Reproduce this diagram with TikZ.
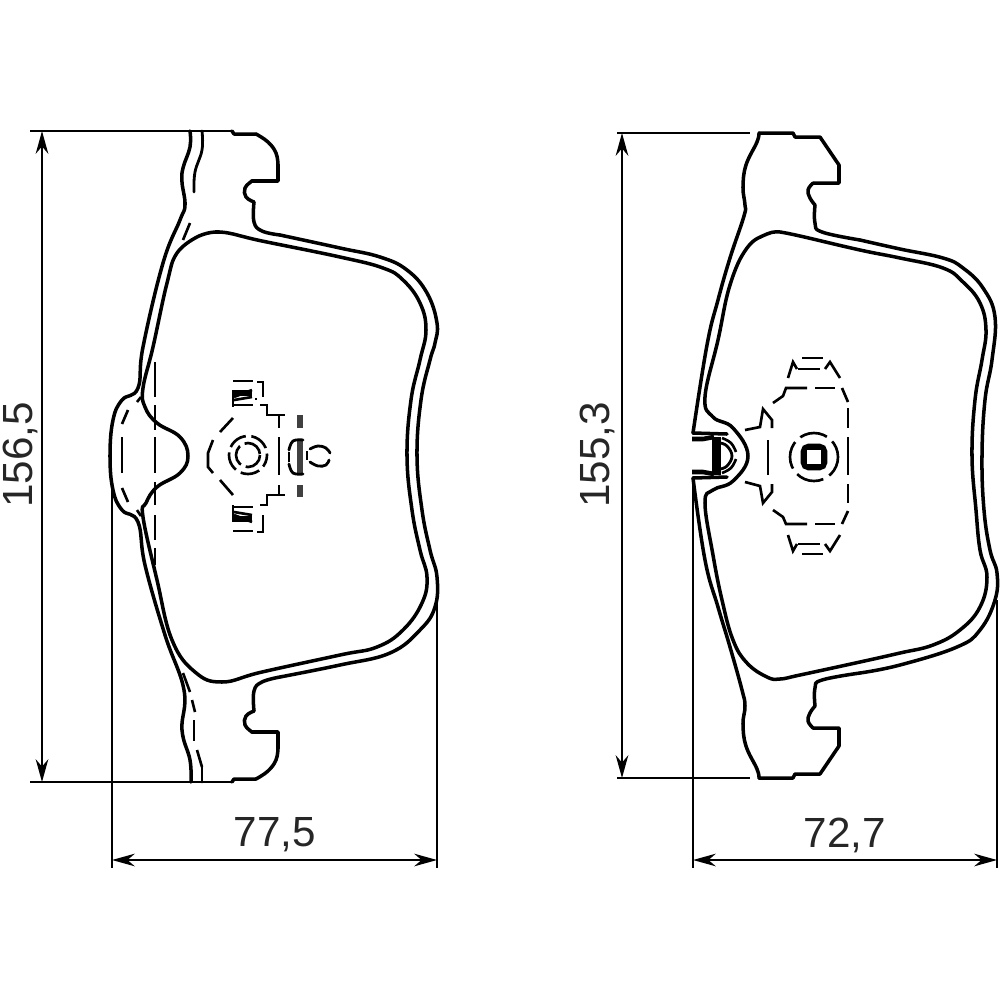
\documentclass[tikz,border=0pt]{standalone}
\usepackage{fontspec}
\setmainfont{Liberation Sans}
\usetikzlibrary{arrows.meta}
\tikzset{
 pad/.style={line width=1pt,line join=round,line cap=round,black},
 thinpad/.style={line width=0.8pt,line join=round,line cap=round,black},
 dsh/.style={line width=0.75pt,line cap=butt,black},
 hvy/.style={line width=1.5pt,line cap=butt,black},
 dim/.style={line width=0.45pt,black},
 dimarrow/.style={dim,{Stealth[length=6.5pt,width=3.6pt]}-{Stealth[length=6.5pt,width=3.6pt]}},
 lab/.style={font=\fontsize{12}{12}\selectfont,text=black!85,inner sep=0pt},
 sm/.style={smooth,tension=0.7}
}
\begin{document}
\begin{tikzpicture}[x=0.1mm,y=-0.1mm]
\useasboundingbox (0,0) rectangle (1000,1000);
\clip (0,0) rectangle (1000,1000);
%% ===== LEFT PAD =====
\coordinate (LT) at (30,131); \coordinate (LB) at (30,782);
\coordinate (LTe) at (232,131); \coordinate (LBe) at (232,782);
\coordinate (LdT) at (42,131); \coordinate (LdB) at (42,782);
\coordinate (LxA) at (112,485); \coordinate (LxAe) at (112,868);
\coordinate (LxB) at (437,600); \coordinate (LxBe) at (437,868);
\coordinate (LdL) at (112,860); \coordinate (LdR) at (437,860);
\draw[dim,line width=0.8pt] (LT)--(LTe); \draw[dim,line width=0.8pt] (LB)--(LBe);
\draw[dimarrow] (LdT)--(LdB);
\draw[dim] (LxA)--(LxAe); \draw[dim] (LxB)--(LxBe);
\draw[dimarrow] (LdL)--(LdR);
\node[lab] (l775) at (275,835) {77,5};
\node[lab,rotate=90] (l1565) at (20,455) {156,5};
% outer plate: top lug
\draw[pad] (232,131)--(234,134)--(256,134);
\draw[pad] plot[sm] coordinates {(256,134)(268,142)(276,153)(278,165)};
\draw[pad] (278,165)--(278,181)--(252,181);
\draw[pad] plot[sm] coordinates {(252,181)(245,188)(246,197)(254,202)};
\draw[pad] plot[sm] coordinates {(254,202)(254,222)(262,231)(280,235)};
\draw[pad] plot[sm] coordinates {(280,235)(340,248)(380,257)(407,270)(427,293)(437,323)(435,343)(430,360)(421,400)(417,456)(422,510)(430,550)(437,577)(435,607)(420,630)(390,653)(340,665)(280,677)};
\draw[pad] plot[sm] coordinates {(280,677)(262,682)(254,691)(254,711)};
\draw[pad] plot[sm] coordinates {(254,711)(246,716)(245,725)(252,732)};
\draw[pad] (252,732)--(278,732)--(278,748);
\draw[pad] plot[sm] coordinates {(278,748)(276,760)(268,771)(256,779)};
\draw[pad] (256,779)--(234,779)--(232,782);
% outer plate: left edge with bump
\draw[pad] plot[sm] coordinates {(190,131)(190,147)(183,168)(182,182)(185,205)(180,220)(163,263)(143,347)(138,388)(122,400)(113,420)(110,456)(113,490)(122,510)(138,522)(145,565)(165,635)(184,690)(182,730)(190,760)(191,782)};
% second line, upper solid part and lower part
\draw[thinpad] plot[sm] coordinates {(202,131)(202,150)(195,172)(194,192)};
\draw[thinpad] (202,767)--(202,782);
% friction outline
\draw[pad] plot[sm] coordinates {(197,237)(220,232)(262,241)(340,257)(383,268)(403,280)(420,303)(426,330)(420,360)(411,400)(407,456)(412,510)(420,550)(427,577)(422,603)(403,630)(377,647)(340,655)(262,672)(222,682)(195,672)(172,640)(157,580)(143,517)(146,503)(157,487)(180,473)(188,456)(180,437)(157,423)(145,407)(143,388)(153,347)(167,283)(177,253)(197,237)};
% dashes on the left pad
\draw[dsh] (190,223)--(183,240);
\draw[dsh] (183,673)--(190,692); \draw[dsh] (192,700)--(195,712);
\draw[dsh] (194,720)--(194,741); \draw[dsh] (197,750)--(202,767);
\foreach \a/\b in {362/397,405/430,437/473,482/505,515/540,548/565}
  \draw[dsh] (155,\a)--(155,\b);
\draw[dsh] (122,437)--(122,473);
\draw[dsh] (128,410)--(122,424); \draw[dsh] (122,488)--(128,502);
\draw[dsh] (141,397)--(137,402); \draw[dsh] (137,510)--(141,516);
% centre of left pad: clips
\draw[dsh] (233,381)--(253,381); \draw[dsh] (233,405)--(253,405);
\draw[dsh] (233,390)--(233,407);
\draw[hvy] (234,393)--(252,393); \draw[dsh] (234,397)--(252,390); \draw[dsh] (234,400)--(252,397);
\draw[dsh] (257,382)--(263,382)--(263,397);
\draw[dsh] (255,399)--(257,399);
\draw[dsh] (260,405)--(267,405)--(267,415)--(285,415);
\draw[dsh] (233,531)--(253,531); \draw[dsh] (233,507)--(253,507);
\draw[dsh] (233,505)--(233,522);
\draw[hvy] (234,519)--(252,519); \draw[dsh] (234,515)--(252,522); \draw[dsh] (234,512)--(252,515);
\draw[dsh] (257,532)--(263,532)--(263,515);
\draw[dsh] (260,505)--(267,505)--(267,495)--(285,495);
\draw[dsh] (279,415)--(279,428); \draw[dsh] (279,437)--(279,475); \draw[dsh] (279,485)--(279,495);
% hexagon
\draw[dsh] (233,418)--(220,432); \draw[dsh] (213,440)--(208,453)--(208,467)--(213,473); \draw[dsh] (220,480)--(233,495);
% circles
\draw[dsh,dash pattern=on 5.5pt off 1.6pt,dash phase=2pt] (248,455) circle (19);
\draw[dsh,dash pattern=on 6pt off 1.5pt] (248,455) circle (12);
% heavy bar and right C and circle
\draw[line width=1.8pt,black!75] (300,415)--(300,428); \draw[line width=1.8pt,black!75] (300,440)--(300,474); \draw[line width=1.8pt,black!75] (300,485)--(300,497);
\draw[thinpad] plot[sm] coordinates {(303,440)(293,441)(289,450)};
\draw[thinpad] plot[sm] coordinates {(303,474)(293,473)(289,464)};
\draw[dsh] (289,452)--(289,462);
\draw[thinpad] plot[sm] coordinates {(310,449)(318,446)(326,448)(330,453)};
\draw[thinpad] plot[sm] coordinates {(310,462)(318,466)(326,465)(329,460)};
\draw[dsh] (307,451)--(307,460);
%% ===== RIGHT PAD =====
\coordinate (RT) at (617,133); \coordinate (RB) at (617,778);
\coordinate (RTe) at (750,133); \coordinate (RBe) at (750,778);
\coordinate (RdT) at (622,133); \coordinate (RdB) at (622,778);
\coordinate (RxA) at (693,478); \coordinate (RxAe) at (693,868);
\coordinate (RxB) at (997,600); \coordinate (RxBe) at (997,868);
\coordinate (RdL) at (693,860); \coordinate (RdR) at (997,860);
\draw[dim,line width=0.8pt] (RT)--(RTe); \draw[dim,line width=0.8pt] (RB)--(RBe);
\draw[dimarrow] (RdT)--(RdB);
\draw[dim] (RxA)--(RxAe); \draw[dim,line width=0.8pt] (RxB)--(RxBe);
\draw[dimarrow] (RdL)--(RdR);
\node[lab] (l727) at (845,835) {72,7};
\node[lab,rotate=90] (l1553) at (597,455) {155,3};
% outer plate
\draw[pad] (759,133)--(793,133)--(795,137)--(820,137)--(839,165)--(839,183)--(813,183);
\draw[pad] plot[sm] coordinates {(813,183)(808,190)(810,198)(815,205)};
\draw[pad] plot[sm] coordinates {(815,205)(815,223)(822,232)(860,240)};
\draw[pad] plot[sm] coordinates {(860,240)(900,249)(943,258)(963,268)(983,288)(995,317)(992,360)(985,400)(982,456)(984,510)(990,550)(997,573)(995,600)(980,630)(957,647)(900,665)(860,673)};
\draw[pad] plot[sm] coordinates {(860,673)(822,680)(815,688)(815,706)};
\draw[pad] plot[sm] coordinates {(815,706)(810,713)(808,721)(813,728)};
\draw[pad] (813,728)--(839,728)--(839,746)--(820,774)--(795,774)--(793,778)--(759,778);
\draw[pad] plot[sm] coordinates {(759,133)(757,142)(746,165)(743,187)(745,205)(744,216)(730,258)(718,300)(707,345)(693,433)};
\draw[pad] plot[sm] coordinates {(759,778)(757,769)(746,746)(743,724)(745,706)(742,690)(730,647)(718,607)(705,560)(693,478)};
% jaw
\draw[pad] (693,433)--(727,434);
\draw[pad] (693,478)--(727,477);
\draw[line width=1.3pt] (692,439)--(703,439)--(714,437);
\draw[line width=1.3pt] (692,472)--(703,472)--(714,474);
\draw[line width=2.4pt] (716.5,437)--(716.5,475);
\draw[thinpad] plot[sm] coordinates {(720,443)(727,446)(732,456)(727,466)(720,469)};
\draw[dsh] plot[sm] coordinates {(722,438)(731,443)(736,452)};
\draw[dsh] plot[sm] coordinates {(736,459)(731,468)(722,473)};
% friction outline
\draw[pad] plot[sm] coordinates {(780,232)(800,236)(860,250)(900,258)(943,268)(963,282)(980,303)(986,330)(982,360)(975,400)(972,456)(976,510)(980,550)(987,577)(980,607)(960,630)(933,645)(900,653)(860,662)(800,675)(780,679)(767,677)(747,663)(733,640)(722,600)(713,555)(705,503)(713,490)(733,481)(748,456)(733,428)(713,417)(705,397)(718,340)(730,285)(747,248)(767,234)(780,232)};
% centre of right pad: dashed
\draw[dsh] (802,358)--(823,358); \draw[dsh] (798,369)--(820,369);
\draw[dsh] (788,378)--(793,362)--(797,369); \draw[dsh] (840,378)--(830,362)--(825,369);
\draw[dsh] (802,554)--(823,554); \draw[dsh] (798,544)--(820,544);
\draw[dsh] (788,535)--(793,551)--(797,544); \draw[dsh] (840,535)--(830,551)--(825,544);
\draw[dsh] (773,403)--(783,396)--(786,388)--(807,388); \draw[dsh] (815,388)--(835,388);
\draw[dsh] (842,388)--(848,402);
\draw[dsh] (773,510)--(783,517)--(786,524)--(807,524); \draw[dsh] (815,524)--(835,524);
\draw[dsh] (842,524)--(848,511);
\draw[dsh] (848,408)--(848,428); \draw[dsh] (848,437)--(848,475); \draw[dsh] (848,484)--(848,503);
\draw[dsh] (745,430)--(760,427)--(763,409)--(772,420)--(772,428);
\draw[dsh] (745,482)--(760,486)--(763,503)--(772,492)--(772,484);
\draw[dsh] (768,440)--(768,475);
\draw[dsh,dash pattern=on 8pt off 2pt,dash phase=2pt] (814,457) circle (24);
\draw[line width=1.3pt,rounded corners=1.5pt] (803,446) rectangle (825,468);
\draw[line width=0.4pt] (806,449) rectangle (822,465);
\end{tikzpicture}
\end{document}
